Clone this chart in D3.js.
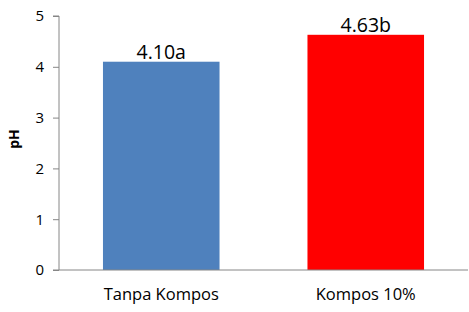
<!DOCTYPE html>
<html><head><meta charset="utf-8">
<script src="https://cdn.jsdelivr.net/npm/d3@7"></script>
<style>body{margin:0;background:#fff}svg{display:block}text{font-family:"Open Sans",sans-serif}</style>
</head><body>
<svg id="c" width="469" height="312"></svg>
<script>
const categories = ["Tanpa Kompos", "Kompos 10%"];
const values = [4.10, 4.63];
const labels = ["4.10a", "4.63b"];
const colors = ["#4F81BD", "#FF0000"];
const yTicks = [0, 1, 2, 3, 4, 5];
const yTitle = "pH";

const svg = d3.select("#c");
const m = {left: 59, right: 1, top: 16, bottom: 42};
const W = 469, H = 312;
const x = d3.scaleBand().domain(categories).range([m.left, W - m.right]).paddingInner(0.43).paddingOuter(0.215);
const y = d3.scaleLinear().domain([0, 5]).range([H - m.bottom, m.top]);

svg.selectAll("rect.bar").data(values).join("rect").attr("class","bar")
  .attr("x", (d,i) => x(categories[i])).attr("width", x.bandwidth())
  .attr("y", d => y(d)).attr("height", d => y(0) - y(d))
  .attr("fill", (d,i) => colors[i]);

const ya = svg.append("g").attr("transform", `translate(${m.left},0)`)
  .call(d3.axisLeft(y).tickValues(yTicks).tickSize(6).tickPadding(9).tickFormat(d3.format("d")));
ya.select(".domain").attr("stroke", "#868686").attr("d", `M-6,${y(5)}H0V${y(0)}`);
ya.selectAll(".tick line").attr("stroke", "#868686");
ya.selectAll(".tick text").attr("font-size", 15).attr("fill", "#000").attr("font-family", "Open Sans, sans-serif");

svg.append("line").attr("x1", m.left - 6).attr("x2", W - m.right).attr("y1", y(0)).attr("y2", y(0)).attr("stroke", "#868686");

svg.selectAll("text.cat").data(categories).join("text").attr("class","cat")
  .attr("x", d => x(d) + x.bandwidth()/2).attr("y", 300)
  .attr("text-anchor", "middle").attr("font-size", 16.5).attr("fill", "#000").text(d => d);

svg.selectAll("text.lab").data(values).join("text").attr("class","lab")
  .attr("x", (d,i) => x(categories[i]) + x.bandwidth()/2).attr("y", d => y(d) - 3)
  .attr("text-anchor", "middle").attr("font-size", 19.5).attr("fill", "#000").text((d,i) => labels[i]);

svg.append("text").attr("transform", `translate(19,139) rotate(-90)`)
  .attr("text-anchor", "middle").attr("font-size", 14).attr("font-weight", "bold").attr("fill", "#000").text(yTitle);
</script>
</body></html>
